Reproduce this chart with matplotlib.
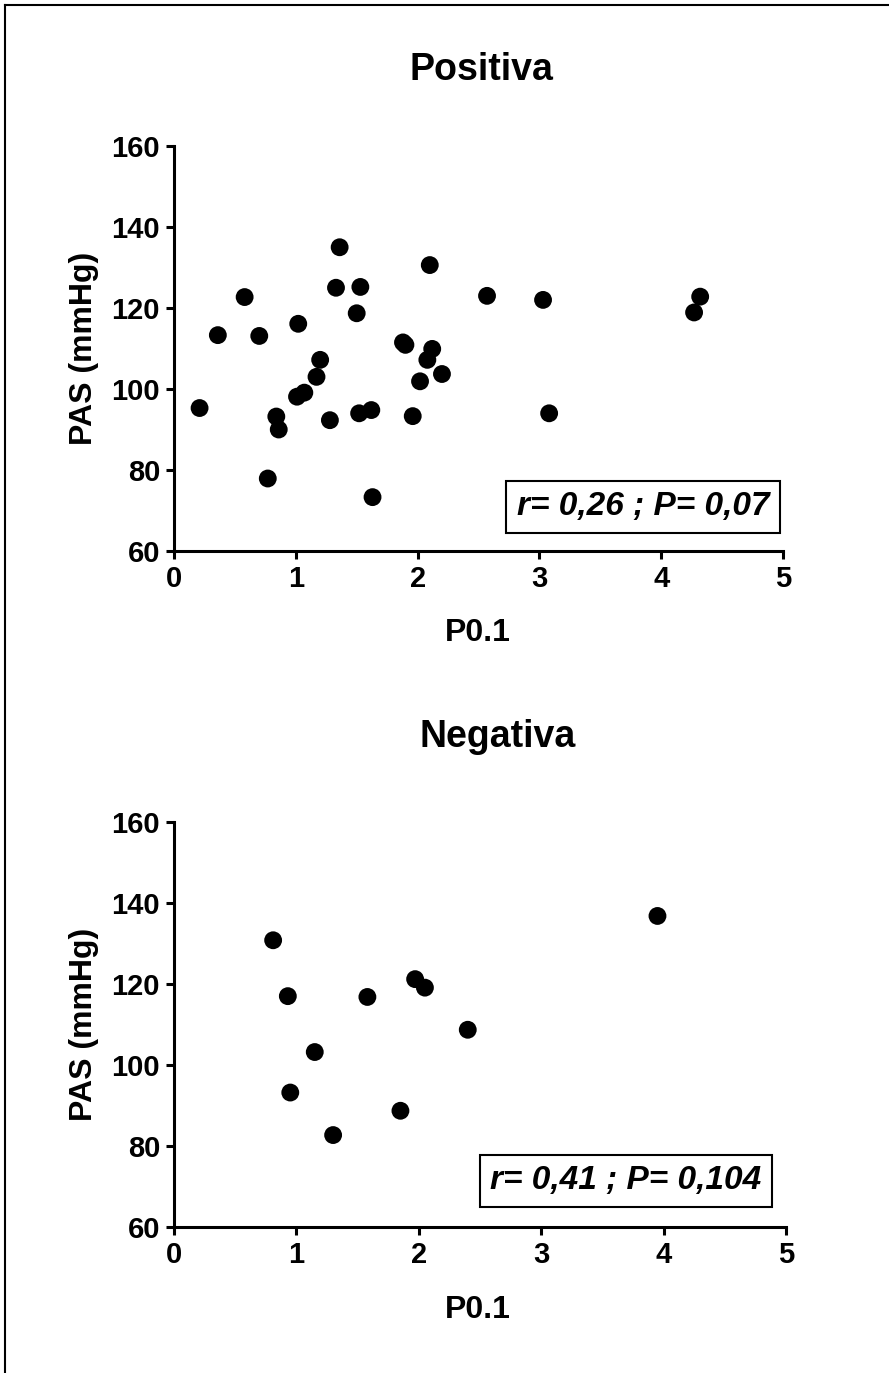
import matplotlib
matplotlib.use("Agg")
import matplotlib.pyplot as plt
from matplotlib.lines import Line2D

plt.rcParams['font.family'] = ['Liberation Sans', 'DejaVu Sans']
plt.rcParams['font.weight'] = 'bold'

# data
pos_x = [0.21, 0.36, 0.58, 0.70, 0.77, 0.84, 0.86, 1.01, 1.02, 1.07, 1.17,
         1.20, 1.28, 1.33, 1.36, 1.50, 1.52, 1.53, 1.62, 1.63, 1.88, 1.90,
         1.96, 2.02, 2.08, 2.10, 2.12, 2.20, 2.57, 3.03, 3.08, 4.27, 4.32]
pos_y = [95.3, 113.3, 122.7, 113.1, 77.9, 93.2, 90.0, 98.1, 116.1, 99.1, 103.0,
         107.2, 92.3, 125.0, 135.0, 118.7, 94.0, 125.2, 94.8, 73.3, 111.5, 110.9,
         93.3, 101.9, 107.2, 130.6, 109.9, 103.7, 123.0, 122.0, 94.0, 118.9, 122.8]

neg_x = [0.81, 0.93, 0.95, 1.15, 1.30, 1.58, 1.85, 1.97, 2.05, 2.40, 3.95]
neg_y = [130.8, 117.0, 93.2, 103.2, 82.7, 116.8, 88.7, 121.2, 119.1, 108.7, 136.8]

titles = ["Positiva", "Negativa"]
stats = ["r= 0,26 ; P= 0,07", "r= 0,41 ; P= 0,104"]
xticks = [0, 1, 2, 3, 4, 5]
yticks = [60, 80, 100, 120, 140, 160]

W, H = 889, 1373
fig = plt.figure(figsize=(W / 100, H / 100), dpi=100)

# frame of the original figure (only top and left survive the crop)
fig.add_artist(Line2D([5 / W, 1], [1 - 5 / H, 1 - 5 / H], color='black', lw=1.5,
                      transform=fig.transFigure))
fig.add_artist(Line2D([5 / W, 5 / W], [0, 1 - 5 / H], color='black', lw=1.5,
                      transform=fig.transFigure))

# axes boxes in pixels: left, right, top, bottom
boxes = [(174, 783, 146, 551), (174, 786, 822, 1227)]
title_pos = [(481, 70), (498, 737)]
stat_pos = [(643, 507), (626, 1181)]
xlab_y = [633, 1310]
ylab_y = [348, 1024]

for i, (xs, ys) in enumerate([(pos_x, pos_y), (neg_x, neg_y)]):
    l, r, t, b = boxes[i]
    ax = fig.add_axes([l / W, 1 - b / H, (r - l) / W, (b - t) / H])
    ax.scatter(xs, ys, s=165, color='black', edgecolors='none', zorder=3, clip_on=False)
    ax.set_xlim(0, 5)
    ax.set_ylim(60, 160)
    ax.set_xticks(xticks)
    ax.set_yticks(yticks)
    for s in ['top', 'right']:
        ax.spines[s].set_visible(False)
    for s in ['left', 'bottom']:
        ax.spines[s].set_linewidth(2.2)
    ax.tick_params(width=2.2, length=6, labelsize=21, pad=4)

    fig.text(title_pos[i][0] / W, 1 - title_pos[i][1] / H, titles[i],
             ha='center', va='center', fontsize=27, fontweight='bold')
    fig.text(478 / W, 1 - xlab_y[i] / H, "P0.1", ha='center', va='center',
             fontsize=23, fontweight='bold')
    fig.text(84 / W, 1 - ylab_y[i] / H, "PAS (mmHg)", ha='center', va='center',
             rotation=90, fontsize=23, fontweight='bold')
    fig.text(stat_pos[i][0] / W, 1 - stat_pos[i][1] / H, stats[i],
             ha='center', va='center', fontsize=24, fontweight='bold', style='italic',
             bbox=dict(boxstyle='square,pad=0.32', fc='white', ec='black', lw=1.5))

fig.savefig("out.png", dpi=100)
